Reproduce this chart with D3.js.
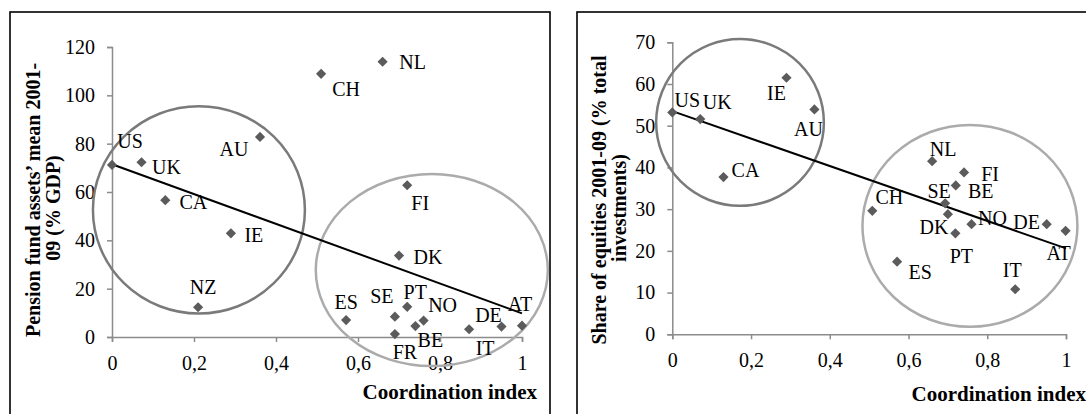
<!DOCTYPE html>
<html>
<head>
<meta charset="utf-8">
<script src="https://cdn.jsdelivr.net/npm/d3@7"></script>
<style>
  body { margin: 0; background: #fff; }
  text { font-family: "Liberation Serif", "Times New Roman", serif; }
</style>
</head>
<body>
<div id="chart"></div>
<script>
// Countries and values.
const leftCountries = ["US", "UK", "CA", "AU", "IE", "NZ", "CH", "NL", "FI", "DK",
  "ES", "SE", "PT", "FR", "BE", "NO", "IT", "DE", "AT"];
const leftX = [0, 0.072, 0.13, 0.361, 0.29, 0.21, 0.51, 0.66, 0.72, 0.70,
  0.571, 0.69, 0.72, 0.69, 0.74, 0.76, 0.871, 0.95, 1.0];
const leftY = [71.2, 72.3, 56.6, 82.8, 42.9, 12.3, 108.9, 113.9, 62.8, 33.7,
  7.0, 8.4, 12.5, 1.2, 4.5, 6.8, 3.2, 4.3, 4.7];
const leftTrend = [[0, 71.5], [1, 9.8]];

const rightCountries = ["US", "UK", "IE", "AU", "CA", "NL", "FI", "BE", "SE", "CH",
  "DK", "PT", "NO", "DE", "AT", "ES", "IT"];
const rightX = [0, 0.071, 0.29, 0.361, 0.13, 0.66, 0.741, 0.72, 0.693, 0.508,
  0.70, 0.719, 0.76, 0.951, 0.999, 0.571, 0.871];
const rightY = [53.2, 51.6, 61.5, 53.9, 37.7, 41.5, 38.8, 35.7, 31.4, 29.6,
  28.8, 24.2, 26.4, 26.4, 24.8, 17.4, 10.8];
const rightTrend = [[0, 53.5], [1, 20.6]];

const xTicks = [0, 0.2, 0.4, 0.6, 0.8, 1];
const leftYTicks = [0, 20, 40, 60, 80, 100, 120];
const rightYTicks = [0, 10, 20, 30, 40, 50, 60, 70];

// Group circles in data units: [cx, cy, rx, ry]
const leftGroups = [[0.212, 52.6, 0.2585, 42.9], [0.780, 27.7, 0.283, 39.75]];
const rightGroups = [[0.172, 50.8, 0.213, 20.0], [0.756, 26.0, 0.273, 24.2]];

// Label offsets from the marker, in px
const leftLabelPos = {
  US: [18, -24], UK: [25, 5], CA: [28, 2], AU: [-26, 12], IE: [23, 2], NZ: [5, -20],
  CH: [25, 15], NL: [30, 0], FI: [13, 18], DK: [29, 1], ES: [0, -18], SE: [-13, -21],
  PT: [8, -15], FR: [10, 18], BE: [15, 14], NO: [19, -16], IT: [16, 19], DE: [-13, -12],
  AT: [-2, -22]
};
const rightLabelPos = {
  US: [15, -12], UK: [17, -17], IE: [-10, 15], AU: [-6, 20], CA: [22, -7], NL: [11, -12],
  FI: [26, 2], BE: [25, 6], SE: [-6, -12], CH: [17, -14], DK: [-14, 13], PT: [6, 23],
  NO: [21, -6], DE: [-20, -2], AT: [-7, 22], ES: [23, 10], IT: [-3, -19]
};

const width = 1086, height = 414;
const svg = d3.select("#chart").append("svg")
  .attr("width", width).attr("height", height);

const fmt = d => String(d).replace(".", ",");

function drawPanel(p) {
  // frame
  svg.append("rect")
    .attr("x", p.frame[0]).attr("y", 12)
    .attr("width", p.frame[1] - p.frame[0]).attr("height", 420)
    .attr("fill", "none").attr("stroke", "#000").attr("stroke-width", 1.6);

  const x = d3.scaleLinear().domain([0, 1]).range(p.xRange);
  const y = d3.scaleLinear().domain(p.yDomain).range(p.yRange);

  const yAxis = svg.append("g")
    .attr("transform", `translate(${p.xRange[0]},0)`)
    .call(d3.axisLeft(y).tickValues(p.yTicks).tickSize(5).tickPadding(12).tickFormat(d => d));
  const xAxis = svg.append("g")
    .attr("transform", `translate(0,${p.yRange[0]})`)
    .call(d3.axisBottom(x).tickValues(xTicks).tickSize(5).tickPadding(14).tickFormat(fmt));
  [xAxis, yAxis].forEach(a => {
    a.select(".domain").attr("stroke", "#8c8c8c").attr("stroke-width", 1.5);
    a.selectAll(".tick line").attr("stroke", "#8c8c8c").attr("stroke-width", 1.5);
    a.selectAll(".tick text").attr("fill", "#000")
      .style("font-family", '"Liberation Serif", serif').style("font-size", "20px");
  });

  // group circles
  svg.selectAll(null).data(p.groups).enter().append("ellipse")
    .attr("cx", d => x(d[0])).attr("cy", d => y(d[1]))
    .attr("rx", d => x(d[2]) - x(0)).attr("ry", d => y(0) - y(d[3]))
    .attr("fill", "none")
    .attr("stroke", (d, i) => i === 0 ? "#7a7a7a" : "#ababab")
    .attr("stroke-width", 2.5);

  // trend line
  svg.append("line")
    .attr("x1", x(p.trend[0][0])).attr("y1", y(p.trend[0][1]))
    .attr("x2", x(p.trend[1][0])).attr("y2", y(p.trend[1][1]))
    .attr("stroke", "#000").attr("stroke-width", 2);

  const pts = p.names.map((n, i) => ({ n, x: p.xs[i], y: p.ys[i] }));
  const diamond = d3.symbol().type(d3.symbolSquare).size(52);
  svg.selectAll(null).data(pts).enter().append("path")
    .attr("d", diamond)
    .attr("transform", d => `translate(${x(d.x)},${y(d.y)}) rotate(45)`)
    .attr("fill", "#5b5b5b");

  svg.selectAll(null).data(pts).enter().append("text")
    .attr("x", d => x(d.x) + p.labelPos[d.n][0])
    .attr("y", d => y(d.y) + p.labelPos[d.n][1])
    .attr("text-anchor", "middle").attr("dominant-baseline", "central")
    .style("font-size", "20px").attr("fill", "#000")
    .text(d => d.n);

  // x title
  svg.append("text")
    .attr("x", p.xTitleX).attr("y", p.xTitleY)
    .attr("text-anchor", "end")
    .style("font-size", "21px").style("font-weight", "bold")
    .text("Coordination index");

  // y title, two lines
  p.yTitle.forEach(t => {
    svg.append("text")
      .attr("transform", `translate(${t[1]},${t[2]}) rotate(-90)`)
      .attr("text-anchor", "middle")
      .style("font-size", "20px").style("font-weight", "bold")
      .text(t[0]);
  });
}

drawPanel({
  frame: [10, 550],
  xRange: [112, 522], yDomain: [0, 120], yRange: [337, 47],
  yTicks: leftYTicks, groups: leftGroups, trend: leftTrend,
  names: leftCountries, xs: leftX, ys: leftY, labelPos: leftLabelPos,
  xTitleX: 537, xTitleY: 399,
  yTitle: [["Pension fund assets\u2019 mean 2001-", 40, 200], ["09 (% GDP)", 60, 208]]
});

drawPanel({
  frame: [577, 1100],
  xRange: [672.3, 1066], yDomain: [0, 70], yRange: [334.3, 42.3],
  yTicks: rightYTicks, groups: rightGroups, trend: rightTrend,
  names: rightCountries, xs: rightX, ys: rightY, labelPos: rightLabelPos,
  xTitleX: 1086, xTitleY: 401,
  yTitle: [["Share of equities 2001-09 (% total", 606, 200], ["investments)", 626, 208]]
});
</script>
</body>
</html>
